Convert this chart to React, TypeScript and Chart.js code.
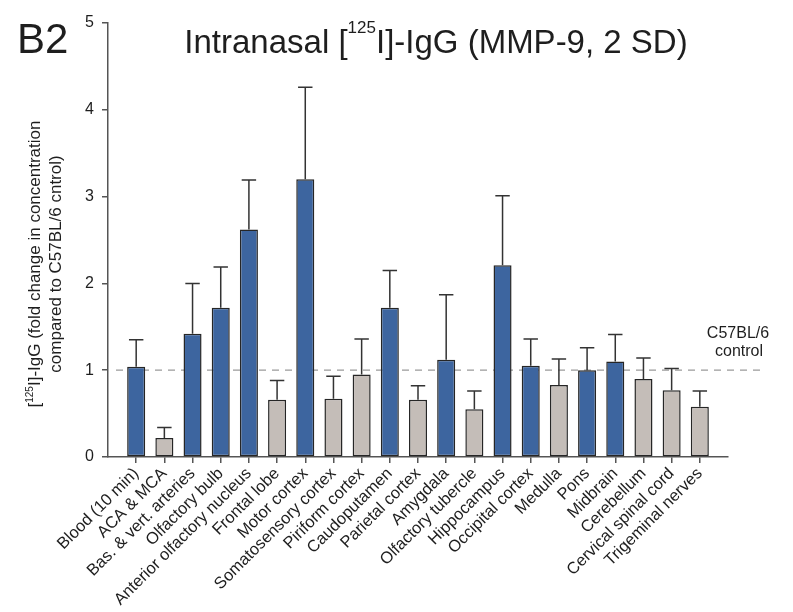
import { useEffect, useRef } from "react";
import { Chart, registerables } from "chart.js";

Chart.register(...registerables);

// ---------- data ----------
const categories = [
  "Blood (10 min)",
  "ACA & MCA",
  "Bas. & vert. arteries",
  "Olfactory bulb",
  "Anterior olfactory nucleus",
  "Frontal lobe",
  "Motor cortex",
  "Somatosensory cortex",
  "Piriform cortex",
  "Caudoputamen",
  "Parietal cortex",
  "Amygdala",
  "Olfactory tubercle",
  "Hippocampus",
  "Occipital cortex",
  "Medulla",
  "Pons",
  "Midbrain",
  "Cerebellum",
  "Cervical spinal cord",
  "Trigeminal nerves",
];
const means = [
  1.04, 0.22, 1.42, 1.72, 2.62, 0.66, 3.2, 0.67, 0.95, 1.72, 0.66, 1.12, 0.55,
  2.21, 1.05, 0.83, 1.0, 1.1, 0.9, 0.77, 0.58,
];
const sds = [
  0.31, 0.12, 0.58, 0.47, 0.57, 0.22, 1.06, 0.26, 0.41, 0.43, 0.16, 0.75, 0.21,
  0.8, 0.31, 0.3, 0.26, 0.31, 0.24, 0.25, 0.18,
];
// "up" = above 2 SD (blue), "ns" = not (grey)
const groups = [
  "up", "ns", "up", "up", "up", "ns", "up", "ns", "ns", "up", "ns", "up", "ns",
  "up", "up", "ns", "up", "up", "ns", "ns", "ns",
];
const yMin = 0;
const yMax = 5;
const yStep = 1;
const controlLevel = 1;
const panelLabel = "B2";
const titleParts = [
  { t: "Intranasal [" },
  { t: "125", sup: true },
  { t: "I]-IgG (MMP-9, 2 SD)" },
];
const yTitleLine1 = [
  { t: "[" },
  { t: "125", sup: true },
  { t: "I]-IgG (fold change in concentration" },
];
const yTitleLine2 = [{ t: "compared to C57BL/6 cntrol)" }];
const controlLabel = ["C57BL/6", "control"];

// ---------- styles ----------
const FONT = '"Liberation Sans", Arial, Helvetica, sans-serif';
const BLUE = "#3D659F";
const GREY = "#C4BDB8";
const AXIS = "#555555";
const TEXT = "#1e1e1e";

type Part = { t: string; sup?: boolean };

function drawRich(
  ctx: CanvasRenderingContext2D,
  parts: Part[],
  x: number,
  y: number,
  size: number,
  supRatio: number,
  supRaise: number
) {
  const supSize = Math.round(size * supRatio);
  let total = 0;
  const widths = parts.map((p) => {
    ctx.font = `${p.sup ? supSize : size}px ${FONT}`;
    const w = ctx.measureText(p.t).width;
    total += w;
    return w;
  });
  let cx = x - total / 2;
  ctx.textAlign = "left";
  ctx.textBaseline = "alphabetic";
  parts.forEach((p, i) => {
    ctx.font = `${p.sup ? supSize : size}px ${FONT}`;
    ctx.fillText(p.t, cx, p.sup ? y - size * supRaise : y);
    cx += widths[i];
  });
}

const overlayPlugin = {
  id: "overlay",
  beforeDatasetsDraw(chart: any) {
    const { ctx, chartArea, scales } = chart;
    const y = scales.y.getPixelForValue(controlLevel);
    ctx.save();
    ctx.strokeStyle = "#9a9a9a";
    ctx.lineWidth = 1.3;
    ctx.setLineDash([7, 6]);
    ctx.beginPath();
    ctx.moveTo(chartArea.left + 8, y);
    ctx.lineTo(chartArea.right + 35, y);
    ctx.stroke();
    ctx.restore();
  },
  afterDatasetsDraw(chart: any) {
    const { ctx, scales } = chart;
    const meta = chart.getDatasetMeta(0);
    ctx.save();
    ctx.strokeStyle = "#333333";
    ctx.lineWidth = 1.5;
    means.forEach((m, i) => {
      const bar = meta.data[i];
      const x = scales.x.getPixelForValue(i);
      const y0 = scales.y.getPixelForValue(m);
      const y1 = scales.y.getPixelForValue(m + sds[i]);
      const half = (bar.width || 18) * 0.4;
      ctx.beginPath();
      ctx.moveTo(x, y0);
      ctx.lineTo(x, y1);
      ctx.moveTo(x - half, y1);
      ctx.lineTo(x + half, y1);
      ctx.stroke();
    });
    ctx.restore();
  },
  afterDraw(chart: any) {
    const { ctx, chartArea, scales } = chart;
    ctx.save();
    ctx.fillStyle = TEXT;
    // panel label
    ctx.font = `42px ${FONT}`;
    ctx.textAlign = "left";
    ctx.textBaseline = "alphabetic";
    ctx.fillText(panelLabel, 17, 53);
    // title
    const cx = (chartArea.left + chartArea.right) / 2 + 18;
    drawRich(ctx, titleParts, cx, 53, 33, 0.52, 0.6);
    // y title (rotated)
    const cy = 264;
    ctx.save();
    ctx.translate(40, cy);
    ctx.rotate(-Math.PI / 2);
    drawRich(ctx, yTitleLine1, 0, 0, 17, 0.6, 0.42);
    ctx.restore();
    ctx.save();
    ctx.translate(61, cy);
    ctx.rotate(-Math.PI / 2);
    drawRich(ctx, yTitleLine2, 0, 0, 17, 0.6, 0.42);
    ctx.restore();
    // control label
    const yc = scales.y.getPixelForValue(controlLevel);
    ctx.font = `16px ${FONT}`;
    ctx.textAlign = "center";
    ctx.fillText(controlLabel[0], chartArea.right + 10, yc - 32);
    ctx.fillText(controlLabel[1], chartArea.right + 11, yc - 14);
    ctx.restore();
  },
};

export default function App() {
  const ref = useRef<HTMLCanvasElement>(null);
  useEffect(() => {
    const canvas = ref.current;
    if (!canvas) return;
    const chart = new Chart(canvas, {
      type: "bar",
      data: {
        datasets: [
          {
            data: means.map((v, i) => ({ x: i, y: v })),
            backgroundColor: groups.map((g) => (g === "up" ? BLUE : GREY)),
            borderColor: "#262626",
            borderWidth: 1.5,
            borderSkipped: false,
            barPercentage: 0.64,
            categoryPercentage: 1,
          },
        ],
      },
      options: {
        responsive: false,
        animation: false,
        layout: { padding: { left: 0, top: 23, right: 65, bottom: 0 } },
        plugins: {
          legend: { display: false },
          tooltip: { enabled: false },
          title: { display: false },
        },
        scales: {
          x: {
            type: "linear",
            min: -1,
            max: categories.length,
            offset: false,
            afterBuildTicks: (s: any) => {
              s.ticks = categories.map((_, i) => ({ value: i }));
            },
            afterFit: (s: any) => {
              s.height = 155;
            },
            ticks: {
              autoSkip: false,
              minRotation: 45,
              maxRotation: 45,
              padding: 1,
              color: TEXT,
              font: { family: FONT, size: 16.5 },
              callback: (v: any) => categories[v as number] ?? "",
            },
            grid: {
              display: true,
              drawOnChartArea: false,
              drawTicks: true,
              tickLength: 6,
              color: AXIS,
              lineWidth: 1.5,
              offset: false,
            },
            border: { display: true, color: AXIS, width: 1.5 },
          },
          y: {
            min: yMin,
            max: yMax,
            afterFit: (s: any) => {
              s.width = 108;
            },
            ticks: {
              stepSize: yStep,
              padding: 8,
              color: TEXT,
              font: { family: FONT, size: 16 },
            },
            grid: {
              display: true,
              drawOnChartArea: false,
              drawTicks: true,
              tickLength: 6,
              color: AXIS,
              lineWidth: 1.5,
            },
            border: { display: true, color: AXIS, width: 1.5 },
          },
        },
      },
      plugins: [overlayPlugin],
    } as any);
    return () => chart.destroy();
  }, []);
  return (
    <div
      style={{
        position: "absolute",
        left: 0,
        top: 0,
        width: 793,
        height: 612,
        background: "#ffffff",
      }}
    >
      <canvas ref={ref} width={793} height={612} style={{ width: 793, height: 612 }} />
    </div>
  );
}
